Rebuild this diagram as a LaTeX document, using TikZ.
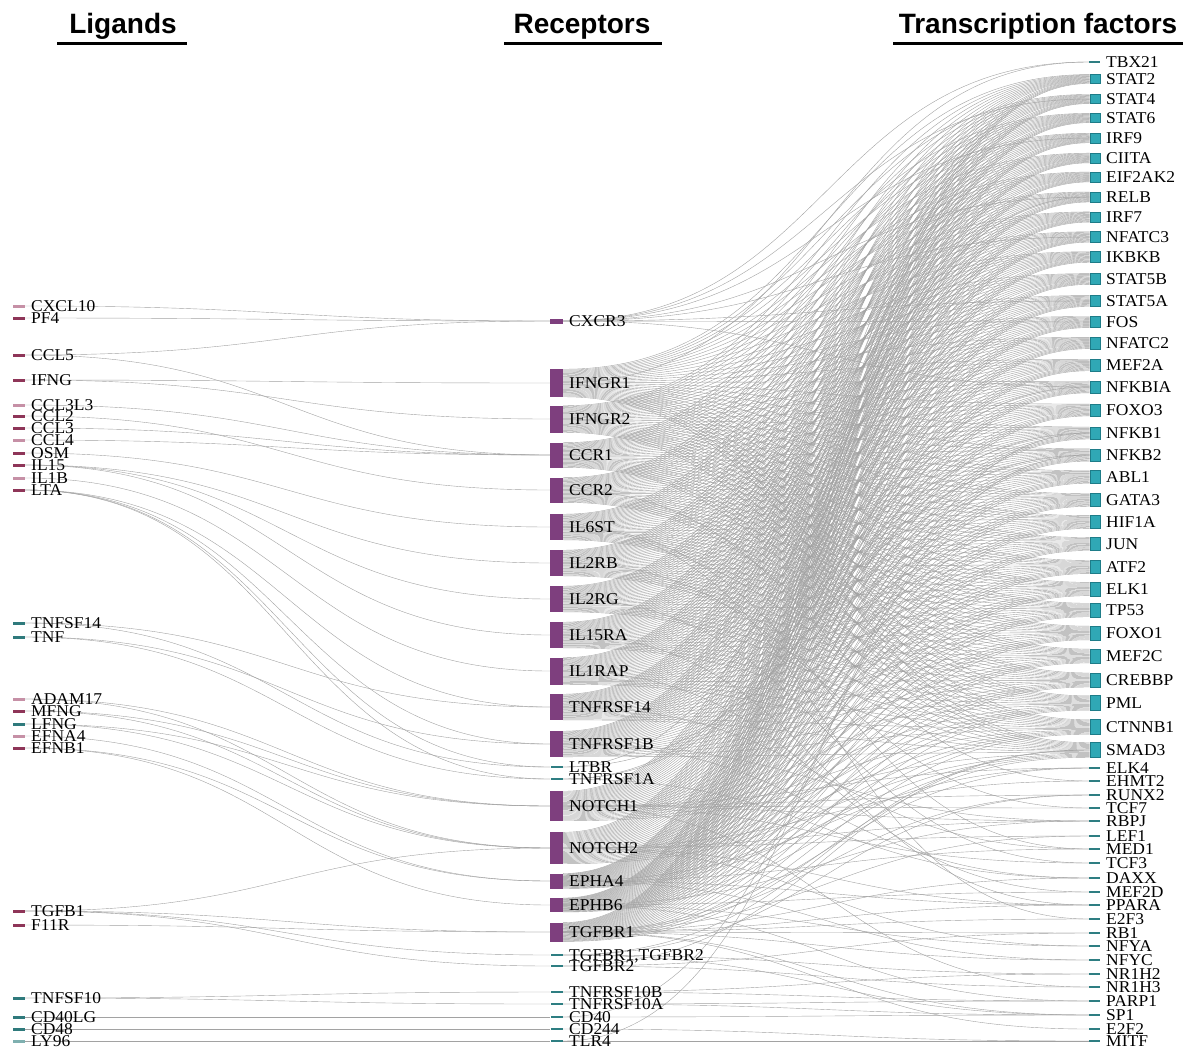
\documentclass[tikz,border=0pt]{standalone}
\usepackage{fontspec}
\setmainfont{Liberation Serif}[FakeStretch=1.06]
\newfontfamily\headfont{Liberation Sans}
\usepackage{tikz}
\usetikzlibrary{calc,backgrounds}
\definecolor{recPurple}{HTML}{7E3F7E}
\definecolor{tfCyan}{HTML}{30A8B5}
\definecolor{tfRand}{HTML}{1E7C88}
\definecolor{dashTeal}{HTML}{2E7E82}
\definecolor{ligMaroon}{HTML}{8E3558}
\definecolor{ligPink}{HTML}{C690A6}
\definecolor{ligTeal}{HTML}{2F7A7C}
\definecolor{ligTealPale}{HTML}{7FB0B0}
\definecolor{flowGray}{HTML}{A2A2A2}

\begin{document}
\begin{tikzpicture}[x=1pt,y=-1pt,
  lab/.style={anchor=west,inner sep=0pt,text height=11pt,text depth=0pt,font=\fontsize{16.5}{16.5}\selectfont},
  head/.style={anchor=base,inner sep=0pt,font=\headfont\bfseries\fontsize{28}{28}\selectfont},
  uline/.style={line width=3pt},
  ligdash/.style={rectangle,inner sep=0pt,minimum width=12pt,minimum height=3pt},
  recbar/.style={rectangle,inner sep=0pt,fill=recPurple,minimum width=13pt},
  recdash/.style={rectangle,inner sep=0pt,fill=dashTeal,minimum width=12pt,minimum height=2.5pt},
  tfbox/.style={rectangle,inner sep=0pt,fill=tfCyan,draw=tfRand,line width=0.5pt,minimum width=10.5pt},
  tfdash/.style={rectangle,inner sep=0pt,fill=dashTeal,minimum width=11pt,minimum height=2.5pt},
  flow/.style={draw=flowGray,line width=0.4pt}]
\useasboundingbox (0,0) rectangle (1185,1050);

% headers
\node[head] (hLig) at (123,33) {Ligands};
\node[head] (hRec) at (582,33) {Receptors};
\node[head] (hTF) at (1038,33) {Transcription factors};
\draw[uline] (57,43) -- (187,43);
\draw[uline] (504,43) -- (662,43);
\draw[uline] (893,43) -- (1183,43);

% ligands
\foreach \nm/\yy/\cc in {CXCL10/306/ligPink,PF4/318/ligMaroon,CCL5/355/ligMaroon,IFNG/380/ligMaroon,
  CCL3L3/405/ligPink,CCL2/416/ligMaroon,CCL3/428/ligMaroon,CCL4/440/ligPink,OSM/453/ligMaroon,
  IL15/465/ligMaroon,IL1B/478/ligPink,LTA/490/ligMaroon,TNFSF14/623/ligTeal,TNF/637/ligTeal,
  ADAM17/699/ligPink,MFNG/711/ligMaroon,LFNG/724/ligTeal,EFNA4/736/ligPink,EFNB1/748/ligMaroon,
  TGFB1/911/ligMaroon,F11R/925/ligMaroon,TNFSF10/998/ligTeal,CD40LG/1017/ligTeal,CD48/1029/ligTeal,
  LY96/1041/ligTealPale}{
  \node[ligdash,fill=\cc] (l-\nm) at (19,\yy) {};
  \node[lab] (ll-\nm) at (31,\yy) {\nm};
}

% receptors
\node[recbar,minimum height=5pt] (r-CXCR3) at (556.5,321) {};
\node[lab] (rl-CXCR3) at (569,321) {CXCR3};
\foreach \nm/\yy/\hh in {IFNGR1/383/28,IFNGR2/419/27,CCR1/455/25,CCR2/490/25,IL6ST/527/26,
  IL2RB/563/26,IL2RG/599/26,IL15RA/635/26,IL1RAP/671/27,TNFRSF14/707/26,TNFRSF1B/744/26,
  NOTCH1/806/30,NOTCH2/848/32,EPHA4/881/15,EPHB6/905/14,TGFBR1/932/19}{
  \node[recbar,minimum height=\hh] (r-\nm) at (556.5,\yy) {};
  \node[lab] (rl-\nm) at (569,\yy) {\nm};
}
\foreach \key/\txt/\yy in {LTBR/LTBR/767,TNFRSF1A/TNFRSF1A/779,TGFBR12/{TGFBR1,TGFBR2}/955,
  TGFBR2/TGFBR2/966,TNFRSF10B/TNFRSF10B/992,TNFRSF10A/TNFRSF10A/1004,CD40/CD40/1017,
  CD244/CD244/1029,TLR4/TLR4/1041}{
  \node[recdash] (r-\key) at (556.5,\yy) {};
  \node[lab] (rl-\key) at (569,\yy) {\txt};
}

% transcription factors
\foreach \nm/\yy [count=\j] in {STAT2/79,STAT4/99,STAT6/118,IRF9/138,CIITA/158,EIF2AK2/177,
  RELB/197,IRF7/217,NFATC3/237,IKBKB/257,STAT5B/279,STAT5A/301,FOS/322,NFATC2/343,MEF2A/365,
  NFKBIA/387,FOXO3/410,NFKB1/433,NFKB2/455,ABL1/477,GATA3/500,HIF1A/522,JUN/544,ATF2/567,
  ELK1/589,TP53/610,FOXO1/633,MEF2C/656,CREBBP/680,PML/703,CTNNB1/727,SMAD3/750}{
  \pgfmathsetmacro\hh{9+(\j-1)*6/31}
  \node[tfbox,minimum height=\hh] (t-\nm) at (1095,\yy) {};
  \node[lab] (tl-\nm) at (1106,\yy) {\nm};
}
\foreach \nm/\yy in {TBX21/62,ELK4/768,EHMT2/781,RUNX2/795,TCF7/808,RBPJ/821,LEF1/836,MED1/849,
  TCF3/863,DAXX/878,MEF2D/892,PPARA/905,E2F3/919,RB1/933,NFYA/946,NFYC/960,NR1H2/974,
  NR1H3/987,PARP1/1001,SP1/1015,E2F2/1029,MITF/1041}{
  \node[tfdash] (t-\nm) at (1094.5,\yy) {};
  \node[lab] (tl-\nm) at (1106,\yy) {\nm};
}

\begin{pgfonlayer}{background}
% ligand -> receptor
\foreach \a/\b in {CXCL10/CXCR3,PF4/CXCR3,CCL5/CCR1,CCL5/CXCR3,IFNG/IFNGR1,IFNG/IFNGR2,
  CCL3L3/CCR1,CCL2/CCR2,CCL3/CCR1,CCL4/CCR1,OSM/IL6ST,IL15/IL2RB,IL15/IL2RG,IL15/IL15RA,
  IL1B/IL1RAP,LTA/TNFRSF14,LTA/TNFRSF1B,LTA/LTBR,LTA/TNFRSF1A,TNFSF14/TNFRSF14,TNFSF14/LTBR,
  TNF/TNFRSF1B,TNF/TNFRSF1A,ADAM17/NOTCH1,ADAM17/NOTCH2,MFNG/NOTCH1,MFNG/NOTCH2,LFNG/NOTCH1,
  LFNG/NOTCH2,EFNA4/EPHA4,EFNB1/EPHA4,EFNB1/EPHB6,TGFB1/TGFBR1,TGFB1/TGFBR12,TGFB1/TGFBR2,
  TGFB1/NOTCH2,F11R/TGFBR1,TNFSF10/TNFRSF10B,TNFSF10/TNFRSF10A,CD40LG/CD40,CD48/CD244,LY96/TLR4}{
  \draw[flow] (l-\a.east) .. controls ([xshift=262pt]l-\a.east) and ([xshift=-262pt]r-\b.west) .. (r-\b.west);
}
% receptor -> transcription factor (main bundle)
\foreach \r [count=\i] in {IFNGR1,IFNGR2,CCR1,CCR2,IL6ST,IL2RB,IL2RG,IL15RA,IL1RAP,TNFRSF14,
  TNFRSF1B,NOTCH1,NOTCH2,EPHA4,EPHB6,TGFBR1}{
  \foreach \t [count=\j] in {STAT2,STAT4,STAT6,IRF9,CIITA,EIF2AK2,RELB,IRF7,NFATC3,IKBKB,STAT5B,
    STAT5A,FOS,NFATC2,MEF2A,NFKBIA,FOXO3,NFKB1,NFKB2,ABL1,GATA3,HIF1A,JUN,ATF2,ELK1,TP53,FOXO1,
    MEF2C,CREBBP,PML,CTNNB1,SMAD3}{
    \pgfmathsetmacro\fr{(\j-0.5)/32}
    \pgfmathsetmacro\fg{(\i-0.5)/16}
    \path ($(r-\r.north east)!\fr!(r-\r.south east)$) coordinate (s)
          ($(t-\t.north west)!\fg!(t-\t.south west)$) coordinate (e);
    \draw[flow] (s) .. controls ([xshift=263pt]s) and ([xshift=-263pt]e) .. (e);
  }
}
% receptor -> transcription factor (minor)
\foreach \a/\b in {CXCR3/TBX21,IFNGR1/TBX21,CXCR3/STAT4,CXCR3/IRF9,CXCR3/RELB,CXCR3/NFATC3,
  CXCR3/STAT5A,CXCR3/FOS,CXCR3/NFKBIA,LTBR/RELB,LTBR/NFKB2,TNFRSF1A/NFKB1,TNFRSF1A/NFKBIA,
  TGFBR12/SMAD3,TGFBR2/SMAD3,CD40/NFKB2,TLR4/NFKB1,
  EPHA4/ELK4,NOTCH1/ELK4,TGFBR1/ELK4,NOTCH2/EHMT2,CCR2/EHMT2,TGFBR1/RUNX2,NOTCH1/RUNX2,
  TGFBR12/RUNX2,NOTCH1/TCF7,IL2RB/TCF7,NOTCH1/RBPJ,NOTCH2/RBPJ,EPHB6/RBPJ,TNFRSF1B/RBPJ,
  NOTCH2/LEF1,TGFBR1/LEF1,IL6ST/MED1,EPHA4/MED1,TNFRSF14/MED1,NOTCH1/TCF3,IL2RG/TCF3,
  TNFRSF1B/DAXX,TNFRSF1A/DAXX,TGFBR1/DAXX,EPHB6/MEF2D,IL1RAP/MEF2D,TGFBR1/PPARA,NOTCH2/PPARA,
  IL15RA/PPARA,EPHA4/PPARA,TGFBR1/E2F3,IL6ST/E2F3,TGFBR1/RB1,TGFBR2/RB1,NOTCH2/NFYA,EPHB6/NFYA,
  TGFBR1/NFYC,EPHA4/NFYC,TGFBR12/NR1H2,TNFRSF10B/NR1H2,TGFBR2/NR1H3,NOTCH1/NR1H3,
  TNFRSF10B/PARP1,TNFRSF10A/PARP1,EPHB6/PARP1,TGFBR1/SP1,TNFRSF10A/SP1,CD40/SP1,TGFBR12/SP1,
  TGFBR1/E2F2,TLR4/MITF,CD244/MITF}{
  \draw[flow] (r-\a.east) .. controls ([xshift=263pt]r-\a.east) and ([xshift=-263pt]t-\b.west) .. (t-\b.west);
}
\end{pgfonlayer}
\end{tikzpicture}
\end{document}
